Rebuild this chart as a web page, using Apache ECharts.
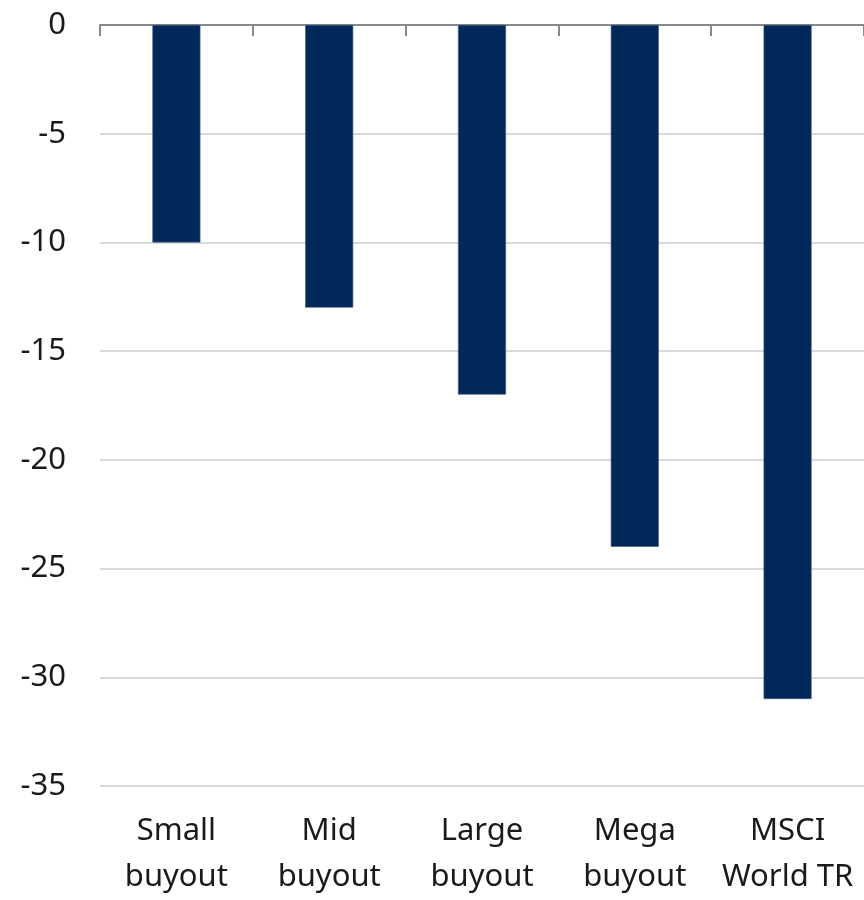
<!DOCTYPE html>
<html>
<head>
<meta charset="utf-8">
<script src="https://cdn.jsdelivr.net/npm/echarts@6/dist/echarts.min.js"></script>
<style>
  html, body { margin: 0; padding: 0; background: #fff; }
  #chart { width: 864px; height: 900px; }
</style>
</head>
<body>
<div id="chart"></div>
<script>
// Drawdown by strategy (%)
const categories = ['Small\nbuyout', 'Mid\nbuyout', 'Large\nbuyout', 'Mega\nbuyout', 'MSCI\nWorld TR'];
const drawdown = [-10, -13, -17, -24, -31];
const yTicks = { min: -35, max: 0, interval: 5 };

const chart = echarts.init(document.getElementById('chart'), null, { renderer: 'canvas' });
const font = '"Noto Sans", "Open Sans", sans-serif';

chart.setOption({
  animation: false,
  grid: { left: 100, top: 25, width: 768, height: 766, containLabel: false },
  xAxis: [
    {
      // category labels sit under the plot
      type: 'category',
      data: categories,
      position: 'bottom',
      axisLine: { show: false, onZero: false },
      axisTick: { show: false },
      axisLabel: {
        color: '#1a1a1a', fontSize: 31, fontFamily: font,
        lineHeight: 46, margin: 22, interval: 0
      }
    },
    {
      // zero baseline along the top, with ticks between categories
      type: 'category',
      data: categories,
      position: 'top',
      axisLine: { show: true, onZero: false, lineStyle: { color: '#898989', width: 2 } },
      axisTick: { show: true, inside: true, length: 11, lineStyle: { color: '#898989', width: 2 } },
      axisLabel: { show: false }
    }
  ],
  yAxis: {
    type: 'value',
    min: yTicks.min, max: yTicks.max, interval: yTicks.interval,
    axisLine: { show: false },
    axisTick: { show: false },
    splitLine: { lineStyle: { color: '#d9d9d9', width: 2 } },
    axisLabel: { color: '#1a1a1a', fontSize: 31, fontFamily: font, margin: 34 }
  },
  series: [{
    type: 'bar',
    xAxisIndex: 0,
    data: drawdown,
    barWidth: 48,
    itemStyle: { color: '#00295a', borderColor: '#3a5c88', borderWidth: 0.6 }
  }]
});
</script>
</body>
</html>
